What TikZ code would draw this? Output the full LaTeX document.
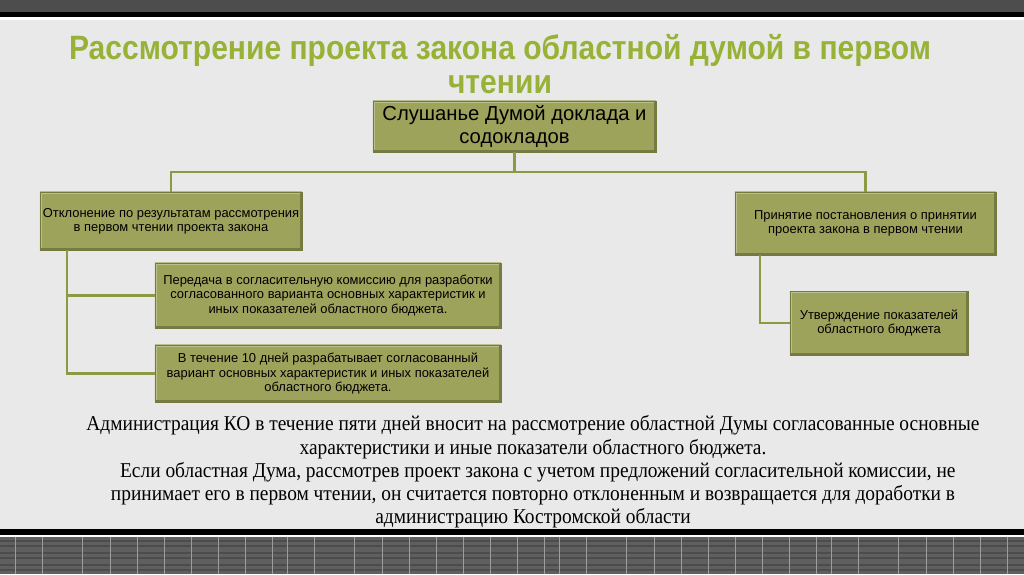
\documentclass[tikz,border=0pt]{standalone}
\usepackage{fontspec}
\setmainfont{Liberation Serif}
\setsansfont{Liberation Sans}
\newfontfamily\titrefont[FakeStretch=0.89]{Liberation Sans}
\newfontfamily\textefont[FakeStretch=0.92]{Liberation Serif}
\usetikzlibrary{positioning}

\definecolor{fond}{HTML}{E9E9E9}
\definecolor{olive}{HTML}{9EA35C}
\definecolor{bordolive}{HTML}{737A3C}
\definecolor{trait}{HTML}{8C9A44}
\definecolor{titre}{HTML}{98B238}
\definecolor{bande}{HTML}{4D4D4D}

\tikzset{
  bloc/.style={draw=bordolive, line width=0.5pt, fill=olive, align=center,
    font=\sffamily\fontsize{9.2}{10}\selectfont, inner sep=2pt,
    path picture={
      \draw[line width=2.5pt, olive!70!white]
        (path picture bounding box.south west) -- (path picture bounding box.north west)
        -- (path picture bounding box.north east);
      \draw[line width=2.5pt, olive!75!black]
        (path picture bounding box.north east) -- (path picture bounding box.south east)
        -- (path picture bounding box.south west);
    }},
  lien/.style={draw=trait, line width=2pt},
}

\newcommand\cadreDiapo {
  \fill[fond] (0, 0) rectangle (1024, 574) ;
  \fill[bande] (0, 0) rectangle (1024, 12) ;
  \fill[black] (0, 12) rectangle (1024, 17) ;
  \fill[white] (0, 17) rectangle (1024, 19.5) ;
  \fill[black] (0, 529) rectangle (1024, 535) ;
  \fill[white] (0, 535) rectangle (1024, 537) ;
  \fill[bande!90!white] (0, 537) rectangle (1024, 574) ;
  \foreach \y in {541, 546, 553, 558, 565, 570}
    \draw[black!70, line width=0.8pt] (0, \y) -- (1024, \y) ;
  \foreach \x in {15, 42, 82, 110, 137, 164, 191, 218, 245, 272}
    \foreach \d in {0, 272, 544, 816}
      \draw[white!45!bande, line width=0.7pt] (\x + \d, 537) -- (\x + \d, 574) ;
}

\begin{document}
\begin{tikzpicture}[x=0.025cm, y=-0.025cm, >=stealth]
  \useasboundingbox (0, 0) rectangle (1024, 574) ;
  \cadreDiapo

  \node[titre, align=center, font=\titrefont\bfseries\fontsize{24}{24}\selectfont]
    (titre) at (500, 64) {Рассмотрение проекта закона областной думой в первом\\чтении} ;

  \node[bloc, minimum width=7.08cm, minimum height=1.28cm,
    font=\sffamily\fontsize{14.4}{16}\selectfont] (ecoute) at (514.5, 126.5)
    {Слушанье Думой доклада и\\содокладов} ;
  \node[bloc, minimum width=6.55cm, minimum height=1.45cm] (rejet) at (171, 221)
    {Отклонение по результатам рассмотрения\\в первом чтении проекта закона} ;
  \node[bloc, minimum width=6.53cm, minimum height=1.58cm] (adoption) at (865.5, 223.5)
    {Принятие постановления о принятии\\проекта закона в первом чтении} ;
  \node[bloc, minimum width=8.65cm, minimum height=1.63cm] (commission) at (328, 295.5)
    {Передача в согласительную комиссию для разработки\\согласованного варианта основных характеристик и\\иных показателей областного бюджета.} ;
  \node[bloc, minimum width=8.65cm, minimum height=1.43cm] (dixjours) at (328, 373.5)
    {В течение 10 дней разрабатывает согласованный\\вариант основных характеристик и иных показателей\\областного бюджета.} ;
  \node[bloc, minimum width=4.45cm, minimum height=1.6cm] (approbation) at (879, 323)
    {Утверждение показателей\\областного бюджета} ;

  \coordinate (bus) at (170, 172) ;
  \coordinate (troncG) at (67, 250) ;
  \coordinate (troncD) at (760, 255) ;
  \draw[lien] (ecoute.south) -- (ecoute.south |- bus) ;
  \draw[lien] (rejet.north) -- (rejet.north |- bus) -- (adoption.north |- bus) -- (adoption.north) ;
  \draw[lien] (troncG) |- (commission.west) ;
  \draw[lien] (troncG) |- (dixjours.west) ;
  \draw[lien] (troncD) |- (approbation.west) ;

  \node[align=center, font=\textefont\fontsize{15}{16.5}\selectfont] (note) at (533, 472)
    {Администрация КО в течение пяти дней вносит на рассмотрение областной Думы согласованные основные\\
     характеристики и иные показатели областного бюджета.\\
     \ \ Если областная Дума, рассмотрев проект закона с учетом предложений согласительной комиссии, не\\
     принимает его в первом чтении, он считается повторно отклоненным и возвращается для доработки в\\
     администрацию Костромской области} ;
\end{tikzpicture}
\end{document}
